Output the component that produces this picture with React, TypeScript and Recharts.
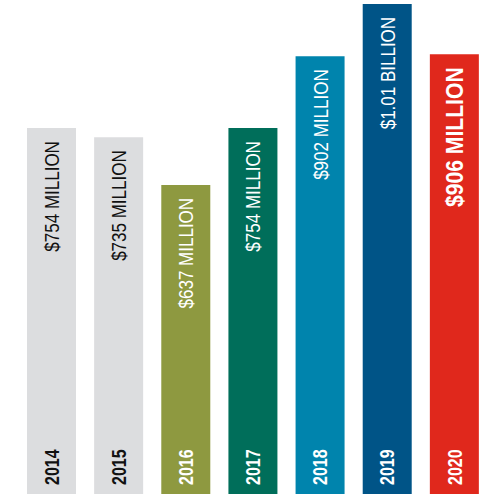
import React from 'react';
import { BarChart, Bar, XAxis, YAxis, Cell, LabelList } from 'recharts';

const years = ['2014', '2015', '2016', '2017', '2018', '2019', '2020'];
const values = [754, 735, 637, 754, 902, 1010, 906];
const valueLabels = ['$754 MILLION', '$735 MILLION', '$637 MILLION', '$754 MILLION', '$902 MILLION', '$1.01 BILLION', '$906 MILLION'];
const barColors = ['#DCDDDF', '#DCDDDF', '#8E9940', '#006E5A', '#0084AD', '#005487', '#E0281C'];
const textColors = ['#111111', '#111111', '#FFFFFF', '#FFFFFF', '#FFFFFF', '#FFFFFF', '#FFFFFF'];
const emphasized = [false, false, false, false, false, false, true];

const data = years.map((y, i) => ({ year: y, value: values[i] }));

const FONT = '"Liberation Sans", Arial, sans-serif';

const renderLabels = (props: any) => {
  const { x, y, width, height, index } = props;
  const cx = x + width / 2;
  const bold = emphasized[index];
  const vSize = bold ? 24 : 21;
  const vScale = bold ? 0.88 : 0.81;
  const vCap = vSize * 0.716;
  const ySize = 20;
  const yCap = ySize * 0.716;
  const color = textColors[index];
  return (
    <g>
      <text
        transform={`translate(${cx + vCap / 2}, ${y + 13}) rotate(-90) scale(${vScale},1)`}
        textAnchor="end"
        fill={color}
        fontFamily={FONT}
        fontSize={vSize}
        fontWeight={bold ? 700 : 400}
      >
        {valueLabels[index]}
      </text>
      <text
        transform={`translate(${cx + yCap / 2}, ${y + height - 9}) rotate(-90) scale(0.8,1)`}
        textAnchor="start"
        fill={color}
        fontFamily={FONT}
        fontSize={ySize}
        fontWeight={700}
      >
        {years[index]}
      </text>
    </g>
  );
};

export default function App() {
  return (
    <div style={{ position: 'absolute', left: 0, top: 0, width: 483, height: 494, overflow: 'hidden', background: '#fff' }}>
      <BarChart width={490} height={494} data={data} margin={{ top: 0, right: 2, bottom: 0, left: 18 }}>
        <XAxis dataKey="year" hide />
        <YAxis hide domain={[0, 1018]} />
        <Bar dataKey="value" barSize={49} isAnimationActive={false}>
          {data.map((d, i) => (
            <Cell key={d.year} fill={barColors[i]} />
          ))}
          <LabelList dataKey="value" content={renderLabels} />
        </Bar>
      </BarChart>
    </div>
  );
}
